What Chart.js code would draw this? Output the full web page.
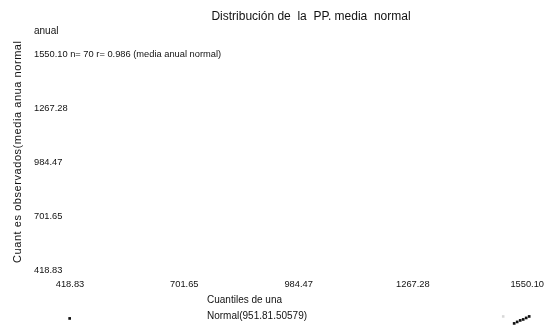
<!DOCTYPE html>
<html>
<head>
<meta charset="utf-8">
<script src="https://cdn.jsdelivr.net/npm/chart.js@4/dist/chart.umd.min.js"></script>
<style>
html,body{margin:0;padding:0;background:#fff;}
#wrap{width:552px;height:325px;position:relative;}
</style>
</head>
<body>
<div id="wrap"><canvas id="c"></canvas></div>
<script>
// ---- data ----
const tickValues = [418.83, 701.65, 984.47, 1267.28, 1550.10];
const statsText = "n= 70 r= 0.986 (media anual normal)";
const titleText = "Distribución de  la  PP. media  normal";
const titleCont = "anual";
const yTitle = "Cuant es observados(media anua normal";
const xTitleLines = ["Cuantiles de una", "Normal(951.81.50579)"];
// visible observed points (theoretical quantile, observed quantile)
const theoX = [418.0, 1510.5, 1517.9, 1525.3, 1532.8, 1540.2, 1547.6, 1555.0];
const obsY  = [168.6, 137.3, 142.5, 150.3, 158.2, 163.4, 171.2, 179.0];
const faintX = [1490.7];
const faintY = [179.0];

const FONT = "'Liberation Sans', Arial, sans-serif";

const textPlugin = {
  id: 'texts',
  afterDraw(chart) {
    const ctx = chart.ctx;
    const ys = chart.scales.y;
    ctx.save();
    ctx.fillStyle = '#111';
    ctx.textBaseline = 'middle';
    ctx.font = '12px ' + FONT;
    ctx.textAlign = 'center';
    ctx.fillText(titleText, 311, 17);
    ctx.font = '10px ' + FONT;
    ctx.textAlign = 'left';
    ctx.fillText(titleCont, 34, 31);
    xTitleLines.forEach((l, i) => ctx.fillText(l, 207, 300 + i * 16));
    // stats text next to the top y tick label
    ctx.font = '9.3px ' + FONT;
    const topVal = tickValues[tickValues.length - 1];
    const lead = ctx.measureText(topVal.toFixed(2) + ' ').width;
    ctx.fillText(statsText, ys.left + lead, ys.getPixelForValue(topVal));
    // y title, rotated
    ctx.translate(18, 152);
    ctx.rotate(-Math.PI / 2);
    ctx.font = '11px ' + FONT;
    ctx.textAlign = 'center';
    const target = 222;
    const w0 = ctx.measureText(yTitle).width;
    const sp = Math.max(0, (target - w0) / (yTitle.length - 1));
    ctx.letterSpacing = sp.toFixed(2) + 'px';
    ctx.fillText(yTitle, sp / 2, 0);
    ctx.restore();
  }
};

new Chart(document.getElementById('c'), {
  type: 'scatter',
  data: {
    datasets: [
      {
        data: theoX.map((x, i) => ({x: x, y: obsY[i]})),
        backgroundColor: '#111',
        borderColor: '#111',
        pointRadius: 1.9,
        pointStyle: 'rect',
        borderWidth: 0,
        clip: false
      },
      {
        data: faintX.map((x, i) => ({x: x, y: faintY[i]})),
        backgroundColor: '#d8d8d8',
        borderColor: '#d8d8d8',
        pointRadius: 1.8,
        pointStyle: 'rect',
        borderWidth: 0,
        clip: false
      }
    ]
  },
  options: {
    responsive: true,
    maintainAspectRatio: false,
    animation: false,
    devicePixelRatio: 1,
    layout: {padding: {top: 40, bottom: 0, left: 34, right: 22}},
    plugins: {legend: {display: false}, tooltip: {enabled: false}, title: {display: false}},
    scales: {
      x: {
        type: 'linear',
        min: 418.83,
        max: 1550.10,
        position: {y: 418.83},
        grid: {display: false, drawTicks: false},
        border: {display: false},
        afterBuildTicks: s => { s.ticks = tickValues.map(v => ({value: v})); },
        ticks: {
          padding: 8,
          color: '#111',
          font: {size: 9.3, family: FONT},
          maxRotation: 0,
          autoSkip: false,
          callback: v => Number(v).toFixed(2)
        }
      },
      y: {
        type: 'linear',
        min: 163.4,
        max: 1628.3,
        position: 'left',
        grid: {display: false, drawTicks: false},
        border: {display: false},
        afterBuildTicks: s => { s.ticks = tickValues.map(v => ({value: v})); },
        afterFit: s => { s.width = 36; },
        ticks: {
          crossAlign: 'far',
          padding: 0,
          color: '#111',
          font: {size: 9.3, family: FONT},
          autoSkip: false,
          callback: v => Number(v).toFixed(2)
        }
      }
    }
  },
  plugins: [textPlugin]
});
</script>
</body>
</html>
